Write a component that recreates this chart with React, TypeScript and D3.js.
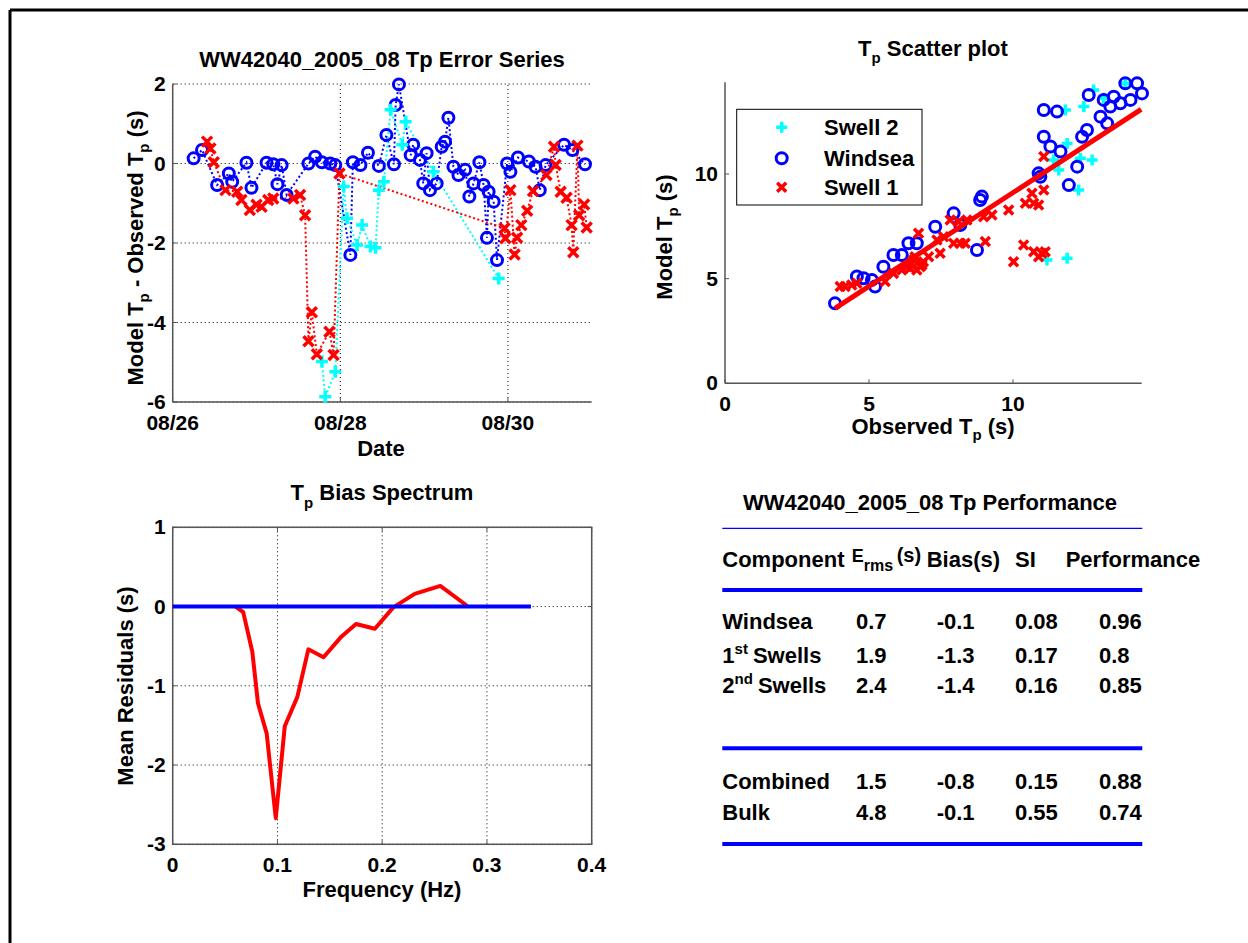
import React from 'react';
import * as d3 from 'd3';

const FONT = "'Liberation Sans', Arial, Helvetica, sans-serif";

// ---------- Error series (days since 2005-08-26 00:00, Model - Observed Tp) ----------
const windseaDays = [0.25, 0.35, 0.53, 0.67, 0.71, 0.88, 0.94, 1.12, 1.2, 1.25, 1.3, 1.36, 1.62, 1.7, 1.78, 1.88, 1.94, 2.12, 2.15, 2.24, 2.33, 2.46, 2.55, 2.64, 2.66, 2.7, 2.84, 2.87, 2.95, 2.99, 3.03, 3.07, 3.15, 3.21, 3.25, 3.29, 3.35, 3.41, 3.49, 3.54, 3.59, 3.66, 3.71, 3.75, 3.77, 3.83, 3.87, 3.99, 4.03, 4.12, 4.25, 4.33, 4.38, 4.45, 4.67, 4.77, 4.92];
const windseaErr = [0.13, 0.34, -0.54, -0.25, -0.46, 0.02, -0.61, 0.02, -0.02, -0.52, -0.04, -0.79, 0.0, 0.17, 0.03, 0.0, -0.04, -2.3, 0.03, -0.04, 0.27, -0.06, 0.72, -0.02, 1.47, 1.99, 0.21, 0.47, 0.09, -0.5, 0.26, -0.67, -0.5, 0.42, 0.55, 1.15, -0.08, -0.29, -0.16, -0.83, -0.5, 0.03, -0.54, -1.87, -0.71, -0.96, -2.43, 0.0, -0.21, 0.15, 0.05, -0.08, -0.67, -0.04, 0.47, 0.34, -0.02];

const swell1Days = [0.41, 0.45, 0.49, 0.63, 0.77, 0.82, 0.92, 1.0, 1.06, 1.14, 1.2, 1.44, 1.52, 1.58, 1.62, 1.66, 1.72, 1.87, 1.92, 1.99, 3.96, 3.97, 4.03, 4.08, 4.11, 4.16, 4.23, 4.3, 4.46, 4.55, 4.57, 4.63, 4.7, 4.76, 4.78, 4.83, 4.85, 4.91, 4.94];
const swell1Err = [0.55, 0.38, 0.03, -0.67, -0.71, -0.92, -1.17, -1.04, -1.09, -0.92, -0.88, -0.88, -0.79, -1.3, -4.47, -3.74, -4.8, -4.23, -4.82, -0.25, -1.63, -1.88, -0.67, -2.29, -1.87, -1.55, -1.19, -0.69, -0.29, 0.42, -0.04, -0.71, -0.86, -1.55, -2.23, 0.45, -1.3, -1.03, -1.61];

const swell2Days = [1.78, 1.82, 1.94, 2.04, 2.08, 2.2, 2.26, 2.36, 2.42, 2.46, 2.52, 2.6, 2.74, 2.78, 3.11, 3.89];
const swell2Err = [-4.98, -5.87, -5.24, -0.58, -1.38, -2.05, -1.55, -2.09, -2.12, -0.67, -0.46, 1.35, 0.47, 1.05, -0.21, -2.89];

const dateTickDays = [0, 2, 4];
const errTicks = [2, 0, -2, -4, -6];

// ---------- Scatter (Observed, Model) ----------
const scWindObs = [3.82, 4.58, 4.81, 5.1, 5.21, 5.5, 5.85, 6.14, 6.37, 6.66, 7.3, 7.94, 8.17, 8.75, 8.86, 8.92, 10.89, 10.95, 11.07, 11.53, 11.07, 11.3, 11.65, 11.94, 12.23, 12.4, 12.57, 12.63, 13.04, 13.15, 13.27, 13.38, 13.5, 13.73, 13.9, 14.08, 14.31, 14.48];
const scWindMod = [3.82, 5.1, 5.02, 4.94, 4.62, 5.57, 6.13, 6.13, 6.69, 6.69, 7.48, 8.12, 7.56, 6.37, 8.76, 8.92, 10.03, 9.87, 13.06, 12.98, 11.78, 11.31, 11.07, 9.47, 10.35, 11.78, 12.1, 13.77, 12.74, 13.54, 12.42, 13.22, 13.69, 13.38, 14.33, 13.54, 14.33, 13.85];

const scSwell1Obs = [4.0, 4.17, 4.4, 4.58, 5.56, 5.85, 6.14, 6.32, 6.43, 6.49, 6.55, 6.6, 6.66, 6.78, 6.84, 6.89, 6.72, 7.07, 7.36, 7.47, 7.59, 7.82, 7.94, 8.11, 8.17, 8.34, 8.4, 8.98, 9.04, 9.27, 9.85, 10.02, 10.37, 10.43, 10.66, 10.72, 10.89, 10.72, 10.89, 11.0, 11.12, 11.07, 11.07];
const scSwell1Mod = [4.62, 4.62, 4.7, 4.78, 4.86, 5.25, 5.41, 5.57, 5.49, 5.73, 5.89, 6.05, 5.41, 5.57, 5.65, 5.81, 7.17, 6.05, 6.85, 6.21, 7.0, 7.8, 6.69, 7.72, 6.69, 6.69, 7.8, 7.96, 6.77, 8.04, 8.28, 5.81, 6.61, 8.6, 9.08, 8.6, 8.52, 6.29, 6.05, 6.21, 6.29, 9.24, 10.83];

const scSwell2Obs = [11.18, 11.88, 11.41, 11.59, 11.88, 11.82, 12.28, 12.34, 12.46, 12.75, 12.8, 13.15, 13.9];
const scSwell2Mod = [5.89, 5.97, 10.67, 10.19, 11.46, 13.06, 9.24, 10.75, 13.22, 10.67, 14.01, 13.62, 14.33];

const fitObs = [3.82, 14.45];
const fitMod = [3.58, 13.09];
const scatterTicks = [0, 5, 10];
const legendLabels = ['Swell 2', 'Windsea', 'Swell 1'];

// ---------- Bias spectrum ----------
const freq = [0.06, 0.0673, 0.076, 0.0814, 0.0897, 0.0984, 0.107, 0.119, 0.1295, 0.144, 0.161, 0.175, 0.193, 0.2106, 0.231, 0.2555, 0.281];
const meanResid = [0.0, -0.07, -0.57, -1.22, -1.6, -2.67, -1.51, -1.14, -0.54, -0.64, -0.38, -0.22, -0.28, -0.01, 0.16, 0.26, 0.01];
const zeroLineF = [0, 0.342];
const freqTicks = [0, 0.1, 0.2, 0.3, 0.4];
const residTicks = [1, 0, -1, -2, -3];

// ---------- Performance table ----------
const components = ['Windsea', '1st Swells', '2nd Swells', 'Combined', 'Bulk'];
const ermsVals = [0.7, 1.9, 2.4, 1.5, 4.8];
const biasVals = [-0.1, -1.3, -1.4, -0.8, -0.1];
const siVals = [0.08, 0.17, 0.16, 0.15, 0.55];
const perfVals = [0.96, 0.8, 0.85, 0.88, 0.74];

const BLUE = '#0000ff';
const RED = '#ff0000';
const CYAN = '#00ffff';
const AXIS = '#555555';

const BASE = new Date(2005, 7, 26).getTime();
const DAY = 86400000;
const toDate = (d: number) => new Date(BASE + d * DAY);

const circleM = (x: number, y: number, c: string, k: string | number) => (
  <circle key={k} cx={x} cy={y} r={5.5} fill="none" stroke={c} strokeWidth={3} />
);
const xM = (x: number, y: number, c: string, k: string | number, s = 5) => (
  <path key={k} d={`M${x - s},${y - s}L${x + s},${y + s}M${x - s},${y + s}L${x + s},${y - s}`} stroke={c} strokeWidth={3.5} fill="none" />
);
const plusM = (x: number, y: number, c: string, k: string | number, s = 6) => (
  <path key={k} d={`M${x - s},${y}H${x + s}M${x},${y - s}V${y + s}`} stroke={c} strokeWidth={3.5} fill="none" />
);

const tickStyle: React.CSSProperties = { fontFamily: FONT, fontWeight: 'bold', fontSize: 21 };
const labStyle: React.CSSProperties = { fontFamily: FONT, fontWeight: 'bold', fontSize: 22 };

export default function App() {
  // ---- Error series scales
  const ex = d3.scaleTime().domain([toDate(0), toDate(5)]).range([172.7, 591.7]);
  const ey = d3.scaleLinear().domain([-6, 2]).range([402, 84]);
  const fmt = d3.timeFormat('%m/%d');
  const eLine = d3.line<[number, number]>().x((p) => ex(toDate(p[0]))).y((p) => ey(p[1]));
  const zip = (a: number[], b: number[]) => a.map((v, i) => [v, b[i]] as [number, number]);
  const wsPts = zip(windseaDays, windseaErr);
  const s1Pts = zip(swell1Days, swell1Err);
  const s2Pts = zip(swell2Days, swell2Err);

  // ---- Scatter scales
  const sx = d3.scaleLinear().domain([0, 14.47]).range([725, 1141.7]);
  const sy = d3.scaleLinear().domain([0, 14.38]).range([383.3, 82.3]);

  // ---- Bias scales
  const bx = d3.scaleLinear().domain([0, 0.4]).range([172.7, 591.7]);
  const by = d3.scaleLinear().domain([-3, 1]).range([844.3, 527.3]);
  const bLine = d3.line<[number, number]>().x((p) => bx(p[0])).y((p) => by(p[1]));

  const dotted = { stroke: '#000', strokeWidth: 1, strokeDasharray: '1 3' };

  const [ex0, ex1] = ex.range();
  const [ey0, ey1] = ey.range();
  const [bx0, bx1] = bx.range();
  const [by0, by1] = by.range();

  return (
    <div style={{ position: 'absolute', left: 0, top: 0 }}>
      <svg width={1248} height={943} style={{ display: 'block', background: '#fff' }}>
        <rect x={0} y={0} width={1248} height={943} fill="#fff" />
        {/* frame */}
        <line x1={10} y1={10} x2={1248} y2={10} stroke="#000" strokeWidth={3} />
        <line x1={10} y1={10} x2={10} y2={943} stroke="#000" strokeWidth={3} />

        {/* ================= Error series ================= */}
        <g>
          {errTicks.map((t) => (
            <line key={'eg' + t} x1={ex0} x2={ex1} y1={ey(t)} y2={ey(t)} {...dotted} />
          ))}
          {dateTickDays.map((d) => (
            <line key={'egx' + d} x1={ex(toDate(d))} x2={ex(toDate(d))} y1={ey0} y2={ey1} {...dotted} />
          ))}
          <line x1={ex0} x2={ex0} y1={ey0} y2={ey1} stroke={AXIS} strokeWidth={1.5} />
          <line x1={ex0} x2={ex1} y1={ey0} y2={ey0} stroke={AXIS} strokeWidth={1.5} />
          {errTicks.map((t) => (
            <g key={'et' + t}>
              <line x1={ex0} x2={ex0 + 4} y1={ey(t)} y2={ey(t)} stroke={AXIS} />
              <text x={ex0 - 7} y={ey(t)} dy="0.34em" textAnchor="end" style={tickStyle}>{t}</text>
            </g>
          ))}
          {dateTickDays.map((d) => (
            <g key={'ext' + d}>
              <line x1={ex(toDate(d))} x2={ex(toDate(d))} y1={ey0} y2={ey0 - 4} stroke={AXIS} />
              <text x={ex(toDate(d))} y={ey0 + 28} textAnchor="middle" style={tickStyle}>{fmt(toDate(d))}</text>
            </g>
          ))}
          <path d={eLine(wsPts) || ''} fill="none" stroke={BLUE} strokeWidth={2} strokeDasharray="2 2.5" />
          <path d={eLine(s2Pts) || ''} fill="none" stroke={CYAN} strokeWidth={2} strokeDasharray="2 2.5" />
          <path d={eLine(s1Pts) || ''} fill="none" stroke={RED} strokeWidth={2} strokeDasharray="2 2.5" />
          {wsPts.map((p, i) => circleM(ex(toDate(p[0])), ey(p[1]), BLUE, 'ews' + i))}
          {s2Pts.map((p, i) => plusM(ex(toDate(p[0])), ey(p[1]), CYAN, 'es2' + i))}
          {s1Pts.map((p, i) => xM(ex(toDate(p[0])), ey(p[1]), RED, 'es1' + i))}
          <text x={382} y={67} textAnchor="middle" style={labStyle}>WW42040_2005_08 Tp Error Series</text>
          <text x={381} y={456} textAnchor="middle" style={labStyle}>Date</text>
          <text transform="translate(143,248) rotate(-90)" textAnchor="middle" style={labStyle}>
            Model T<tspan fontSize={15} dy={6}>p</tspan><tspan dy={-6}> - Observed T</tspan>
            <tspan fontSize={15} dy={6}>p</tspan><tspan dy={-6}> (s)</tspan>
          </text>
        </g>

        {/* ================= Scatter ================= */}
        <g>
          <line x1={sx(0)} x2={sx(0)} y1={sy.range()[0]} y2={sy.range()[1]} stroke={AXIS} strokeWidth={1.5} />
          <line x1={sx.range()[0]} x2={sx.range()[1]} y1={sy(0)} y2={sy(0)} stroke={AXIS} strokeWidth={1.5} />
          {scatterTicks.map((t) => (
            <g key={'st' + t}>
              <line x1={sx(0)} x2={sx(0) + 4} y1={sy(t)} y2={sy(t)} stroke={AXIS} />
              <text x={sx(0) - 7} y={sy(t)} dy="0.34em" textAnchor="end" style={tickStyle}>{t}</text>
              <line x1={sx(t)} x2={sx(t)} y1={sy(0)} y2={sy(0) - 4} stroke={AXIS} />
              <text x={sx(t)} y={sy(0) + 28} textAnchor="middle" style={tickStyle}>{t}</text>
            </g>
          ))}
          {scSwell2Obs.map((o, i) => plusM(sx(o), sy(scSwell2Mod[i]), CYAN, 'ss2' + i, 5.5))}
          {scWindObs.map((o, i) => circleM(sx(o), sy(scWindMod[i]), BLUE, 'sws' + i))}
          {scSwell1Obs.map((o, i) => xM(sx(o), sy(scSwell1Mod[i]), RED, 'ss1' + i, 4.5))}
          <line x1={sx(fitObs[0])} y1={sy(fitMod[0])} x2={sx(fitObs[1])} y2={sy(fitMod[1])} stroke={RED} strokeWidth={5} />
          {/* legend */}
          <rect x={736.7} y={109.3} width={185.3} height={95.7} fill="#fff" stroke="#000" strokeWidth={1} />
          {plusM(781.7, 127.3, CYAN, 'lg0', 5.5)}
          {circleM(781.7, 158.3, BLUE, 'lg1')}
          {xM(781.7, 187.3, RED, 'lg2', 4.5)}
          {legendLabels.map((l, i) => (
            <text key={'ll' + i} x={824} y={[127.3, 158.3, 187.3][i]} dy="0.36em" style={labStyle}>{l}</text>
          ))}
          <text x={933} y={56} textAnchor="middle" style={labStyle}>
            T<tspan fontSize={15} dy={7}>p</tspan><tspan dy={-7}> Scatter plot</tspan>
          </text>
          <text x={933} y={434} textAnchor="middle" style={labStyle}>
            Observed T<tspan fontSize={15} dy={6}>p</tspan><tspan dy={-6}> (s)</tspan>
          </text>
          <text transform="translate(672,237) rotate(-90)" textAnchor="middle" style={labStyle}>
            Model T<tspan fontSize={15} dy={6}>p</tspan><tspan dy={-6}> (s)</tspan>
          </text>
        </g>

        {/* ================= Bias spectrum ================= */}
        <g>
          {residTicks.map((t) => (
            <line key={'bg' + t} x1={bx0} x2={bx1} y1={by(t)} y2={by(t)} {...dotted} />
          ))}
          {freqTicks.map((f) => (
            <line key={'bgx' + f} x1={bx(f)} x2={bx(f)} y1={by0} y2={by1} {...dotted} />
          ))}
          <rect x={bx0} y={by1} width={bx1 - bx0} height={by0 - by1} fill="none" stroke={AXIS} strokeWidth={1.5} />
          {residTicks.map((t) => (
            <g key={'bt' + t}>
              <line x1={bx0} x2={bx0 + 4} y1={by(t)} y2={by(t)} stroke={AXIS} />
              <line x1={bx1} x2={bx1 - 4} y1={by(t)} y2={by(t)} stroke={AXIS} />
              <text x={bx0 - 7} y={by(t)} dy="0.34em" textAnchor="end" style={tickStyle}>{t}</text>
            </g>
          ))}
          {freqTicks.map((f) => (
            <g key={'bxt' + f}>
              <line x1={bx(f)} x2={bx(f)} y1={by0} y2={by0 - 4} stroke={AXIS} />
              <line x1={bx(f)} x2={bx(f)} y1={by1} y2={by1 + 4} stroke={AXIS} />
              <text x={bx(f)} y={by0 + 28} textAnchor="middle" style={tickStyle}>{f}</text>
            </g>
          ))}
          <path d={bLine(freq.map((f, i) => [f, meanResid[i]] as [number, number])) || ''} fill="none" stroke={RED} strokeWidth={4} strokeLinejoin="round" />
          <line x1={bx(zeroLineF[0])} x2={bx(zeroLineF[1])} y1={by(0)} y2={by(0)} stroke={BLUE} strokeWidth={4} />
          <text x={382} y={500} textAnchor="middle" style={labStyle}>
            T<tspan fontSize={15} dy={8}>p</tspan><tspan dy={-8}> Bias Spectrum</tspan>
          </text>
          <text x={382} y={897} textAnchor="middle" style={labStyle}>Frequency (Hz)</text>
          <text transform="translate(133,686) rotate(-90)" textAnchor="middle" style={labStyle}>Mean Residuals (s)</text>
        </g>

        {/* ================= Performance table ================= */}
        <g style={labStyle}>
          <text x={930} y={510} textAnchor="middle">WW42040_2005_08 Tp Performance</text>
          <line x1={722.3} x2={1142.3} y1={528.3} y2={528.3} stroke={BLUE} strokeWidth={1.2} />
          <text x={722.3} y={567}>Component</text>
          <text x={851.7} y={562} fontSize={18}>E<tspan fontSize={16} dy={9}>rms</tspan></text>
          <text x={896.7} y={562} fontSize={20}>(s)</text>
          <text x={926.7} y={567}>Bias(s)</text>
          <text x={1015} y={567}>SI</text>
          <text x={1065.7} y={567}>Performance</text>
          <line x1={722.3} x2={1142.3} y1={590} y2={590} stroke={BLUE} strokeWidth={4} />
          <line x1={722.3} x2={1142.3} y1={748.3} y2={748.3} stroke={BLUE} strokeWidth={4} />
          <line x1={722.3} x2={1142.3} y1={844} y2={844} stroke={BLUE} strokeWidth={4} />
          {components.map((c, i) => {
            const yy = [629.3, 663.3, 693.3, 789, 820][i];
            const m = c.match(/^(\d)(st|nd) (.*)$/);
            return (
              <g key={'row' + i}>
                <text x={722.3} y={yy}>
                  {m ? (
                    <>
                      {m[1]}
                      <tspan fontSize={15} dy={-9}>{m[2]}</tspan>
                      <tspan dy={9} dx={5}>{m[3]}</tspan>
                    </>
                  ) : c}
                </text>
                <text x={856} y={yy}>{String(ermsVals[i])}</text>
                <text x={936.7} y={yy}>{String(biasVals[i])}</text>
                <text x={1015} y={yy}>{String(siVals[i])}</text>
                <text x={1099} y={yy}>{String(perfVals[i])}</text>
              </g>
            );
          })}
        </g>
      </svg>
    </div>
  );
}
